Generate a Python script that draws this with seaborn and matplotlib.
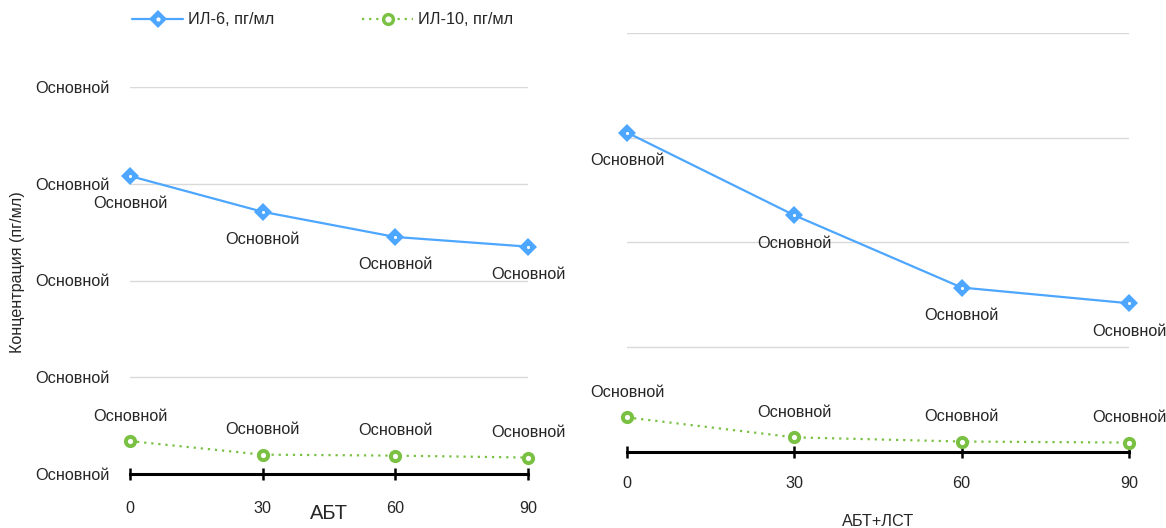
import matplotlib
matplotlib.use("Agg")
import matplotlib.pyplot as plt
import pandas as pd
import seaborn as sns
from matplotlib.lines import Line2D
from matplotlib.legend_handler import HandlerTuple

# Days of observation
days = [0, 30, 60, 90]

# Cytokine concentrations, pg/ml
il6_abt = [30.8, 27.1, 24.5, 23.5]
il10_abt = [3.4, 2.0, 1.9, 1.7]
il6_abt_lst = [30.5, 22.6, 15.7, 14.2]
il10_abt_lst = [3.3, 1.4, 1.0, 0.9]

series_names = ["ИЛ-6, пг/мл", "ИЛ-10, пг/мл"]
panel_titles = ["АБТ", "АБТ+ЛСТ"]
y_ticks = [0, 10, 20, 30, 40]
y_tick_label = "Основной"
point_label = "Основной"
y_title = "Концентрация (пг/мл)"

sns.set_style("white")
plt.rcParams["font.family"] = ["Liberation Sans", "DejaVu Sans"]

BLUE = "#4da6ff"
GREEN = "#7ac143"
FS = 11.7

fig = plt.figure(figsize=(11.66, 5.28), dpi=100)
ax1 = fig.add_axes([130 / 1166, 54 / 528, 398 / 1166, 387 / 528])
ax2 = fig.add_axes([627 / 1166, 76 / 528, 502 / 1166, 419 / 528])


def draw_panel(ax, il6, il10, title, show_yticks, tick_pad, label_y):
    df = pd.DataFrame({
        "day": days * 2,
        "value": il6 + il10,
        "series": [series_names[0]] * len(days) + [series_names[1]] * len(days),
    })
    sns.lineplot(
        data=df, x="day", y="value", hue="series", style="series",
        palette={series_names[0]: BLUE, series_names[1]: GREEN},
        markers={series_names[0]: "D", series_names[1]: "o"},
        dashes={series_names[0]: "", series_names[1]: (1, 2.2)},
        linewidth=1.6, markersize=9.5, markeredgewidth=0,
        ax=ax, legend=False, clip_on=False, zorder=3,
    )
    # white centres of the markers
    ax.scatter(days, il6, s=5, color="white", zorder=5, clip_on=False, linewidths=0)
    ax.scatter(days, il10, s=14, color="white", zorder=5, clip_on=False, linewidths=0)

    for x, v in zip(days, il6):
        ax.annotate(point_label, (x, v), xytext=(0, -20), textcoords="offset points",
                    ha="center", va="center", fontsize=FS, annotation_clip=False)
    for x, v in zip(days, il10):
        ax.annotate(point_label, (x, v), xytext=(0, 18), textcoords="offset points",
                    ha="center", va="center", fontsize=FS, annotation_clip=False)

    ax.set_xlim(0, 90)
    ax.set_ylim(0, 40)
    ax.set_xticks(days)
    ax.set_xticklabels([str(d) for d in days], fontsize=FS)
    ax.set_yticks(y_ticks)
    if show_yticks:
        ax.set_yticklabels([y_tick_label] * len(y_ticks), fontsize=FS)
    else:
        ax.set_yticklabels([])
    ax.yaxis.grid(True, color="#d9d9d9", linewidth=1)
    ax.xaxis.grid(False)
    for side in ["left", "right", "top"]:
        ax.spines[side].set_visible(False)
    ax.spines["bottom"].set_color("black")
    ax.spines["bottom"].set_linewidth(2.2)
    ax.spines["bottom"].set_zorder(4)
    ax.tick_params(axis="x", direction="inout", length=9, width=1.8,
                   color="black", pad=tick_pad, bottom=True)
    ax.tick_params(axis="y", length=0, pad=15)
    ax.set_ylabel("")
    ax.set_xlabel(title)
    ax.xaxis.set_label_coords(0.5, label_y)


draw_panel(ax1, il6_abt, il10_abt, panel_titles[0], True, 15, -0.078)
ax1.xaxis.label.set_fontsize(14.5)
draw_panel(ax2, il6_abt_lst, il10_abt_lst, panel_titles[1], False, 13, -0.148)
ax2.xaxis.label.set_fontsize(FS)

fig.text(18 / 1166, 1 - 272 / 528, y_title, rotation=90, ha="center", va="center",
         fontsize=11.6)

h_blue = (Line2D([], [], color=BLUE, lw=1.6, marker="D", markersize=9.5, markeredgewidth=0),
          Line2D([], [], linestyle="none", marker="o", color="white", markersize=2))
h_green = (Line2D([], [], color=GREEN, lw=1.6, linestyle=(0, (1, 2.2)), marker="o",
                  markersize=9.5, markeredgewidth=0),
           Line2D([], [], linestyle="none", marker="o", color="white", markersize=3.5))
fig.legend([h_blue, h_green], series_names,
           handler_map={tuple: HandlerTuple(ndivide=1, pad=0)},
           loc="center left", bbox_to_anchor=(132 / 1166, 1 - 20 / 528), ncol=2,
           frameon=False, fontsize=FS, handlelength=3.15, handletextpad=0.3,
           columnspacing=5.4, borderpad=0, borderaxespad=0)

fig.savefig("out.png", dpi=100)
